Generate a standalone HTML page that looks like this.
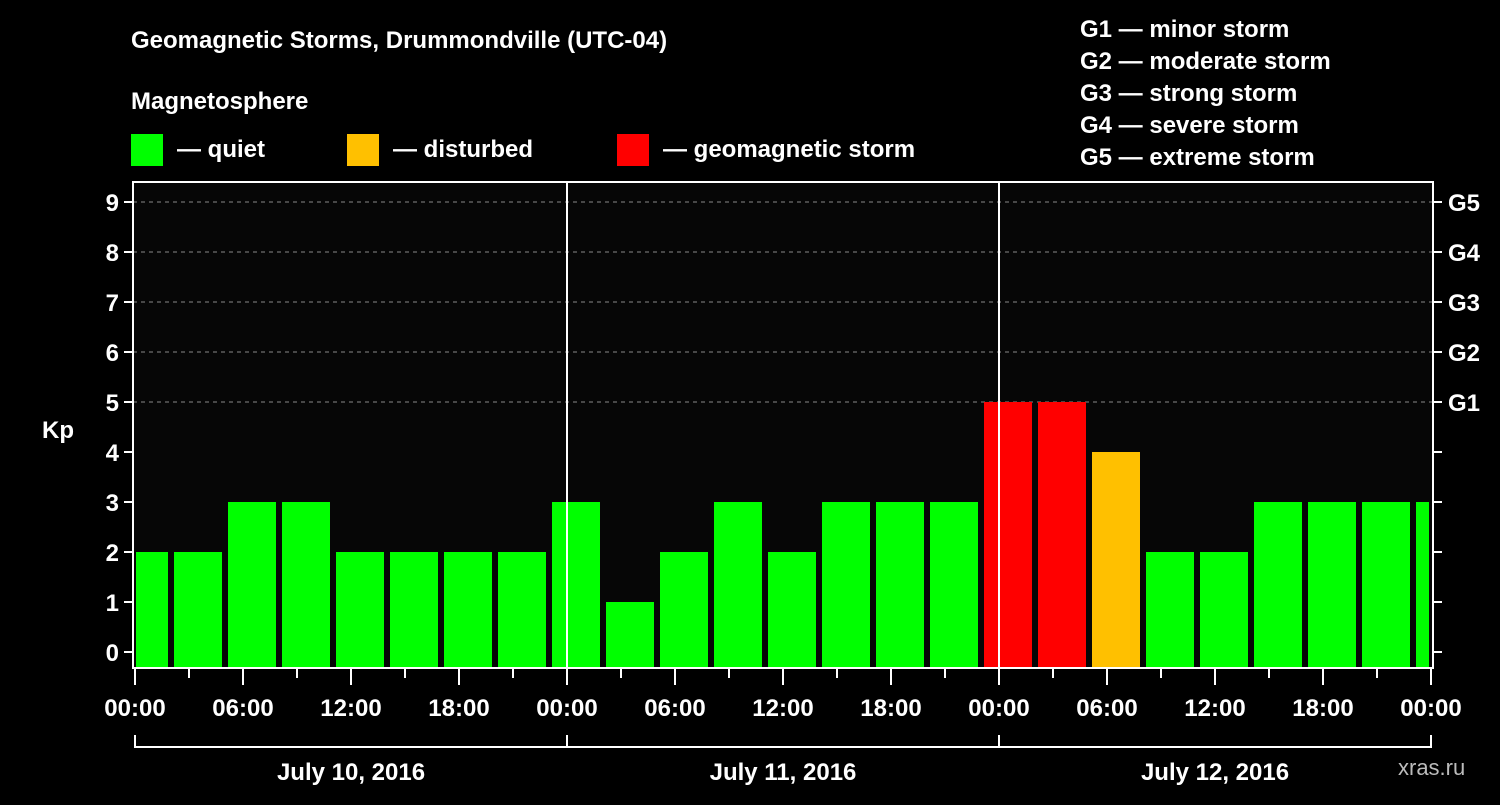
<!DOCTYPE html>
<html><head><meta charset="utf-8"><style>
body{margin:0;background:#000;width:1500px;height:800px;overflow:hidden}
svg text{font-family:"Liberation Sans",sans-serif;font-weight:bold;fill:#fff}
</style></head><body>
<svg width="1500" height="800" xmlns="http://www.w3.org/2000/svg">
<rect x="0" y="0" width="1500" height="800" fill="#000"/>
<text x="131" y="48" font-size="24">Geomagnetic Storms, Drummondville (UTC-04)</text>
<text x="131" y="109" font-size="24">Magnetosphere</text>
<g><rect x="131" y="134" width="32" height="32" fill="#00ff00"/><text x="177" y="157" font-size="24">— quiet</text></g>
<g><rect x="347" y="134" width="32" height="32" fill="#ffc000"/><text x="393" y="157" font-size="24">— disturbed</text></g>
<g><rect x="617" y="134" width="32" height="32" fill="#ff0000"/><text x="663" y="157" font-size="24">— geomagnetic storm</text></g>
<g font-size="24">
<text x="1080" y="37">G1 — minor storm</text>
<text x="1080" y="69">G2 — moderate storm</text>
<text x="1080" y="101">G3 — strong storm</text>
<text x="1080" y="133">G4 — severe storm</text>
<text x="1080" y="165">G5 — extreme storm</text>
</g>
<rect x="134" y="182" width="1298" height="486" fill="#060606"/>
<g id="grid"></g>
<g id="bars"></g>
<g id="axes"></g>
<text x="42" y="438" font-size="24">Kp</text>
<text x="1398" y="775" font-size="22" fill="#bbb" style="fill:#bbb;font-weight:normal">xras.ru</text>
</svg>
<script>
const kpValues=[2,2,3,3,2,2,2,2,3,1,2,3,2,3,3,3,5,5,4,2,2,3,3,3,3];
const yTicks=[0,1,2,3,4,5,6,7,8,9];
const gLabels=["G1","G2","G3","G4","G5"];
const xTickLabels=["00:00","06:00","12:00","18:00","00:00","06:00","12:00","18:00","00:00","06:00","12:00","18:00","00:00"];
const dayLabels=["July 10, 2016","July 11, 2016","July 12, 2016"];
const NS="http://www.w3.org/2000/svg";
const X0=135,HOURPX=18,TOP=182,BOT=668,LEFT=133,RIGHT=1433;
const xs=h=>X0+h*HOURPX;
const ys=v=>652-v*50;
function mk(tag,attrs,parent,text){const e=document.createElementNS(NS,tag);for(const k in attrs)e.setAttribute(k,attrs[k]);if(text!==undefined)e.textContent=text;parent.appendChild(e);return e;}
const grid=document.getElementById('grid'),bars=document.getElementById('bars'),axes=document.getElementById('axes');
for(let v=5;v<=9;v++){const l=mk('line',{x1:LEFT,x2:RIGHT,y1:ys(v),y2:ys(v),stroke:'#888','stroke-dasharray':'4,4','stroke-width':1},grid);

}
kpValues.forEach((v,i)=>{
 let x1=xs(i*3-1)+3,x2=x1+48;
 x1=Math.max(x1,LEFT+3);x2=Math.min(x2,RIGHT-4);
 const c=v>=5?'#ff0000':(v>=4?'#ffc000':'#00ff00');
 const r=mk('rect',{x:x1,y:ys(v),width:x2-x1,height:BOT-ys(v),fill:c},bars);
 
 
});
[1,2].forEach(d=>{const l=mk('line',{x1:xs(d*24),x2:xs(d*24),y1:TOP,y2:BOT,stroke:'#fff','stroke-width':2},axes);

});
const frame=mk('rect',{x:LEFT,y:TOP,width:RIGHT-LEFT,height:BOT-TOP,fill:'none',stroke:'#fff','stroke-width':2},axes);


yTicks.forEach(v=>{
 mk('line',{x1:LEFT-9,x2:LEFT,y1:ys(v),y2:ys(v),stroke:'#fff','stroke-width':2},axes);
 mk('line',{x1:RIGHT,x2:RIGHT+9,y1:ys(v),y2:ys(v),stroke:'#fff','stroke-width':2},axes);
 const t=mk('text',{x:LEFT-14,y:ys(v)+9,'font-size':24,'text-anchor':'end'},axes,String(v));
 
 
});
gLabels.forEach((g,i)=>{const t=mk('text',{x:1448,y:ys(5+i)+9,'font-size':24},axes,g);

});
for(let h=0;h<=72;h+=3){const major=h%6===0;mk('line',{x1:xs(h),x2:xs(h),y1:BOT,y2:BOT+(major?17:10),stroke:'#fff','stroke-width':2},axes);}
xTickLabels.forEach((s,i)=>{const t=mk('text',{x:xs(i*6),y:716,'font-size':24,'text-anchor':'middle'},axes,s);

});
mk('line',{x1:xs(0),x2:xs(72),y1:747,y2:747,stroke:'#fff','stroke-width':2},axes);
for(let d=0;d<=3;d++)mk('line',{x1:xs(d*24),x2:xs(d*24),y1:735,y2:748,stroke:'#fff','stroke-width':2},axes);
dayLabels.forEach((s,i)=>{const t=mk('text',{x:xs(i*24+12),y:780,'font-size':24,'text-anchor':'middle'},axes,s);

});
</script>
</body></html>
